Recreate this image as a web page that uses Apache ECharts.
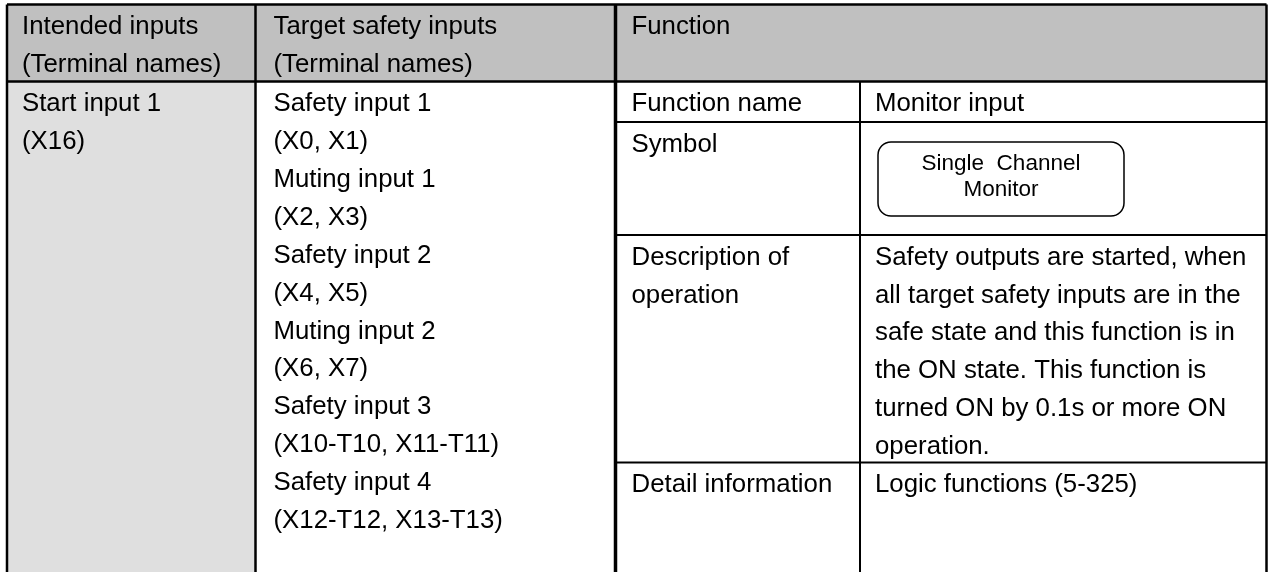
<!DOCTYPE html>
<html>
<head>
<meta charset="utf-8">
<script src="https://cdn.jsdelivr.net/npm/echarts@6/dist/echarts.min.js"></script>
<style>
html,body{margin:0;padding:0;background:#fff;}
#main{width:1272px;height:572px;}
</style>
</head>
<body>
<div id="main"></div>
<script>
// ---- table content ----
const headerCol1 = ["Intended inputs", "(Terminal names)"];
const headerCol2 = ["Target safety inputs", "(Terminal names)"];
const headerCol3 = ["Function"];
const intendedInputs = ["Start input 1", "(X16)"];
const targetInputs = [
  "Safety input 1", "(X0, X1)",
  "Muting input 1", "(X2, X3)",
  "Safety input 2", "(X4, X5)",
  "Muting input 2", "(X6, X7)",
  "Safety input 3", "(X10-T10, X11-T11)",
  "Safety input 4", "(X12-T12, X13-T13)"
];
const functionLabels = [["Function name"], ["Symbol"], ["Description of", "operation"], ["Detail information"]];
const functionValues = [
  ["Monitor input"],
  [],
  ["Safety outputs are started, when", "all target safety inputs are in the", "safe state and this function is in", "the ON state. This function is", "turned ON by 0.1s or more ON", "operation."],
  ["Logic functions (5-325)"]
];
const symbolLines = ["Single  Channel", "Monitor"];

// ---- layout ----
const colX = [7, 255.5, 615.5, 860, 1266.5];
const headTop = 4.5, headBottom = 81.5;
const funcRowY = [81.5, 122, 235, 462.5, 600];
const tableBottom = 600;
const lineH = 37.9, firstOff = 22.5, padX = [15, 18, 16, 15];
const FONT = '"Liberation Sans", Arial, sans-serif';
const fs = 25.8;

const g = [];
function rect(x, y, w, h, fill) {
  g.push({type: 'rect', shape: {x, y, width: w, height: h}, style: {fill}, silent: true, z: 0});
}
function line(x1, y1, x2, y2, w) {
  g.push({type: 'line', shape: {x1, y1, x2, y2}, style: {stroke: '#000', lineWidth: w}, silent: true, z: 5});
}
function texts(lines, x, top, size, align) {
  lines.forEach((t, i) => {
    g.push({type: 'text', x, y: top + firstOff + i * lineH, silent: true, z: 10,
      style: {text: t, font: size + 'px ' + FONT, fill: '#000', align: align || 'left', verticalAlign: 'middle'}});
  });
}

// backgrounds
rect(colX[0], headTop, colX[4] - colX[0], headBottom - headTop, '#c0c0c0');
rect(colX[0], headBottom, colX[1] - colX[0], tableBottom - headBottom, '#dfdfdf');

// header text
texts(headerCol1, colX[0] + padX[0], headTop, fs);
texts(headerCol2, colX[1] + padX[1], headTop, fs);
texts(headerCol3, colX[2] + padX[2], headTop, fs);

// body text
texts(intendedInputs, colX[0] + padX[0], headBottom, fs);
texts(targetInputs, colX[1] + padX[1], headBottom, fs);
functionLabels.forEach((lab, r) => texts(lab, colX[2] + padX[2], funcRowY[r], fs));
functionValues.forEach((val, r) => texts(val, colX[3] + padX[3], funcRowY[r], fs));

// symbol box
const bx = 878, by = 142, bw = 246, bh = 74;
g.push({type: 'rect', shape: {x: bx, y: by, width: bw, height: bh, r: 13}, style: {fill: '#fff', stroke: '#000', lineWidth: 1.5}, silent: true, z: 6});
symbolLines.forEach((t, i) => {
  g.push({type: 'text', x: bx + bw / 2, y: by + 22 + i * 26, silent: true, z: 10,
    style: {text: t, font: '22.5px ' + FONT, fill: '#000', align: 'center', verticalAlign: 'middle'}});
});

// grid lines
line(colX[0], headTop, colX[4], headTop, 2.5);           // top
line(colX[0], headTop, colX[0], tableBottom, 2.5);       // left
line(colX[4], headTop, colX[4], tableBottom, 2.5);       // right
line(colX[1], headTop, colX[1], tableBottom, 2.5);       // col1|col2
line(colX[2], headTop, colX[2], tableBottom, 3.5);       // col2|col3 thick
line(colX[0], headBottom, colX[4], headBottom, 2.5);     // header bottom
line(colX[3], headBottom, colX[3], tableBottom, 2);      // inner function divider
for (let r = 1; r < 4; r++) line(colX[2], funcRowY[r], colX[4], funcRowY[r], 2);

const chart = echarts.init(document.getElementById('main'), null, {renderer: 'canvas'});
chart.setOption({animation: false, backgroundColor: '#fff', graphic: {elements: g}});
</script>
</body>
</html>
